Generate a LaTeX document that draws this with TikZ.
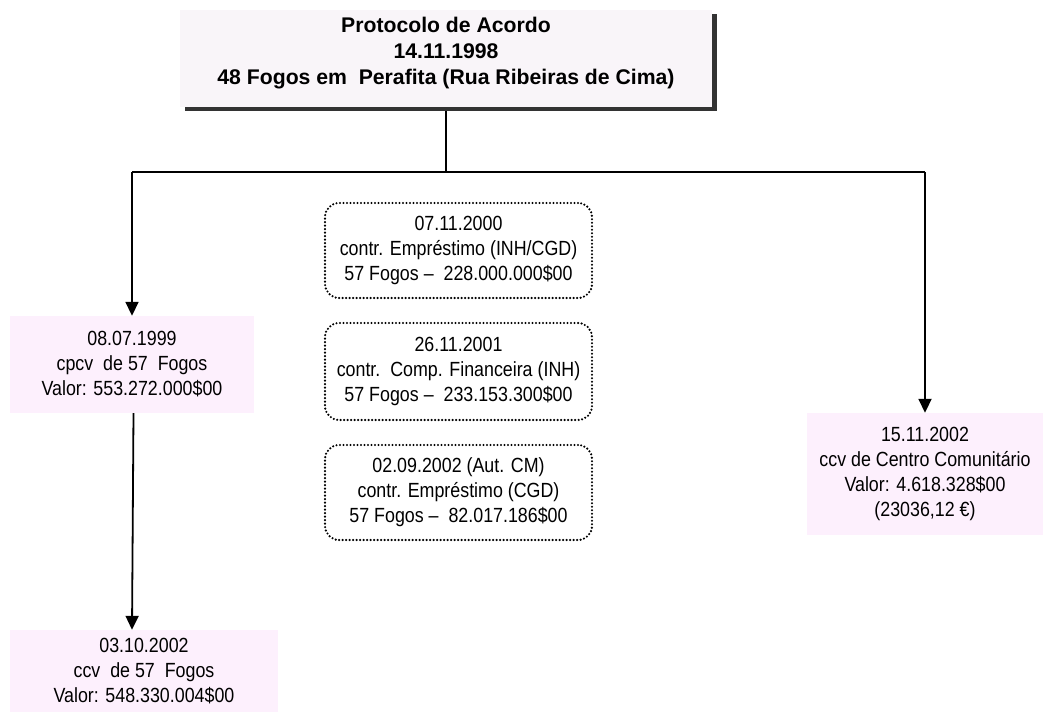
\documentclass[tikz,border=0pt]{standalone}
\usepackage{fontspec}
\setmainfont{Liberation Sans}
\newfontfamily\narrowfont[FakeStretch=0.87]{Liberation Sans}
\usetikzlibrary{arrows.meta,shadows}
\definecolor{pinkfill}{RGB}{253,240,253}
\definecolor{headfill}{RGB}{249,245,249}
\definecolor{shadowgray}{RGB}{51,51,51}
\begin{document}
\begin{tikzpicture}[x=1pt,y=-1pt,
  headbox/.style={fill=headfill, minimum width=532pt, minimum height=97pt,
    inner sep=0pt,
    drop shadow={fill=shadowgray, opacity=1, shadow xshift=5pt, shadow yshift=-4pt}},
  headtext/.style={inner sep=0pt, align=center,
    font=\fontsize{21.2}{26}\selectfont\bfseries},
  databox/.style={fill=pinkfill, inner sep=0pt, align=center,
    font=\narrowfont\fontsize{20.5}{25}\selectfont},
  notebox/.style={draw, line width=2.4pt, dash pattern=on 0pt off 3.5pt,
    line cap=round, rounded corners=14pt, minimum width=267pt,
    inner sep=0pt, align=center,
    font=\narrowfont\fontsize{20.5}{25}\selectfont},
  link/.style={line width=1.8pt},
  arrowlink/.style={link, -{Triangle[length=14pt,width=13pt]}}]
\useasboundingbox (0,0) rectangle (1043,722);

% agreement heading: shaded box with its text set a little above centre
\node[headbox] (head) at (446,58.5) {};
\node[headtext] (headlabel) at (446,53)
  {Protocolo de Acordo\\14.11.1998\\48 Fogos em\ \ Perafita (Rua Ribeiras de Cima)};

% contract boxes
\node[databox, minimum width=244pt, minimum height=97pt] (cpcv) at (132,364.5)
  {08.07.1999\\cpcv\ \ de 57\ \ Fogos\\Valor: 553.272.000\$00};
\node[databox, minimum width=268pt, minimum height=82pt] (ccv) at (144,671)
  {03.10.2002\\ccv\ \ de 57\ \ Fogos\\Valor: 548.330.004\$00};
\node[databox, minimum width=236pt, minimum height=122pt] (centro) at (925,474)
  {15.11.2002\\ccv de Centro Comunitário\\Valor: 4.618.328\$00\\(23036,12 €)};

% financing notes
\node[notebox, minimum height=95pt] (loanA) at (458.5,250.5)
  {07.11.2000\\contr. Empréstimo (INH/CGD)\\57 Fogos –\ \ 228.000.000\$00};
\node[notebox, minimum height=97pt] (loanB) at (458.5,371.5)
  {26.11.2001\\contr.\ \ Comp. Financeira (INH)\\57 Fogos –\ \ 233.153.300\$00};
\node[notebox, minimum height=95pt] (loanC) at (458.5,492.5)
  {02.09.2002 (Aut. CM)\\contr. Empréstimo (CGD)\\57 Fogos –\ \ 82.017.186\$00};

% branching connectors
\coordinate (jT) at (446,172);
\coordinate (jL) at (132,172);
\coordinate (jR) at (925,172);
\draw[link] ([yshift=-4pt]head.south) -- (jT);
\draw[link] (jL) -- (jR);
\draw[arrowlink] (jL) -- (cpcv.north);
\draw[arrowlink] (jR) -- (centro.north);
\draw[arrowlink] ([xshift=1.5pt]cpcv.south) -- ([xshift=-12pt]ccv.north);
\end{tikzpicture}
\end{document}
